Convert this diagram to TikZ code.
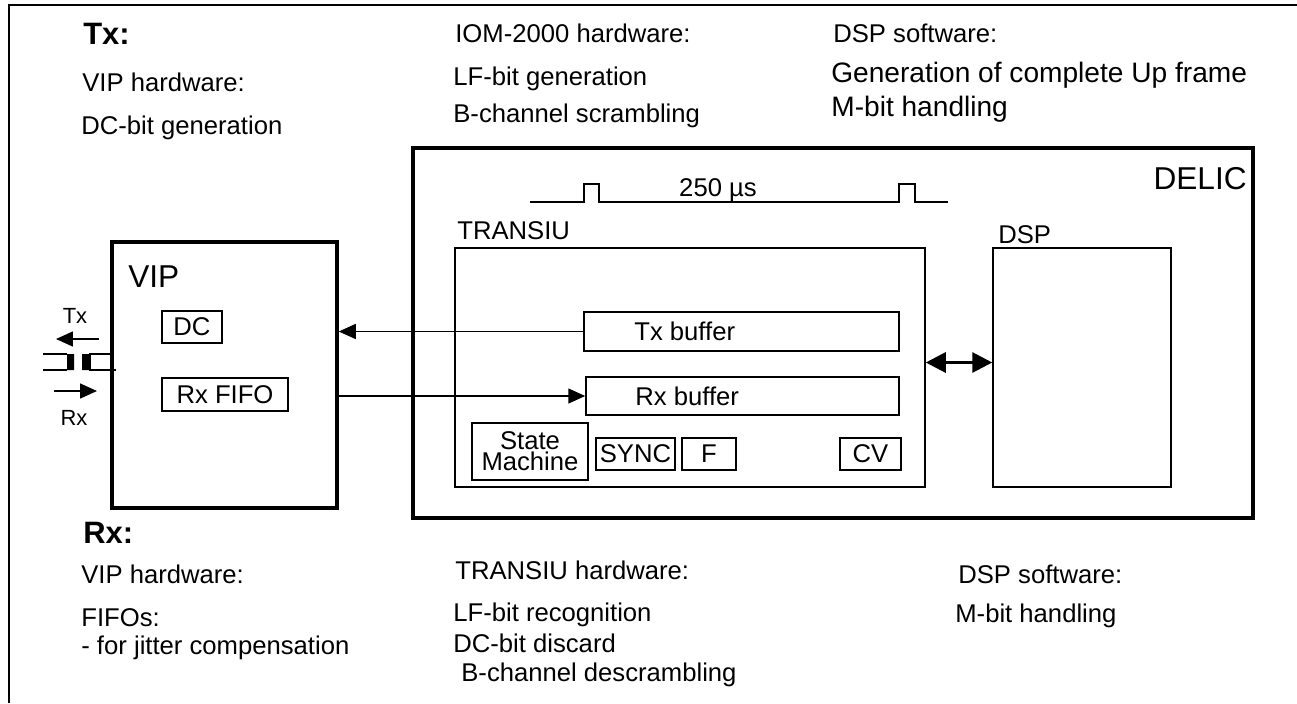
\documentclass[tikz,border=0pt]{standalone}
\usepackage{fontspec}
\setmainfont{Liberation Sans}
\usetikzlibrary{arrows.meta, positioning, fit, calc}

\begin{document}
\begin{tikzpicture}[x=0.02cm, y=-0.02cm]
\tikzset{
  txt/.style={anchor=base west, inner sep=0, font=\fontsize{14.6}{17}\selectfont},
  wide txt/.style={txt, font=\fontsize{16}{19}\selectfont},
  hdr/.style={anchor=base west, inner sep=0, font=\fontsize{17.6}{20}\selectfont\bfseries},
  big/.style={inner sep=0, font=\fontsize{18}{21}\selectfont},
  port lbl/.style={inner sep=0, font=\fontsize{12.5}{14}\selectfont},
  box/.style={draw, line width=0.85pt, inner sep=0},
  thick box/.style={draw, line width=2pt, inner sep=0},
  small box/.style={box, minimum height=0.64cm, font=\fontsize{14.6}{17}\selectfont},
  arr/.style={line width=0.85pt, -{Triangle[length=3.4mm, width=3mm]}},
  dbl/.style={line width=1.7pt, {Triangle[length=4mm, width=4mm]}-{Triangle[length=4mm, width=4mm]}},
}
  \useasboundingbox (0,0) rectangle (1297,703);
  \draw[line width=0.85pt] (9,703) -- (9,5) -- (1297,5);

  \node [hdr] (TxHead) at (83,44) {Tx:};
  \node [hdr] (RxHead) at (83,543) {Rx:};
  \foreach \x/\y/\t [count=\c] in {82/91/VIP hardware:, 81/134/DC-bit generation,
      455/42/IOM-2000 hardware:, 453/85/LF-bit generation, 453/122/B-channel scrambling,
      833/42/DSP software:} {
    \node [txt] (TxTxt\c) at (\x,\y) {\t};
  }
  \node [wide txt] (UpFrame) at (831,82) {Generation of complete Up frame};
  \node [wide txt] (MbitTx) at (831,116) {M-bit handling};
  \foreach \x/\y/\t [count=\c] in {81/583/VIP hardware:, 81/626/FIFOs:, 81/654/- for jitter compensation,
      455/579/TRANSIU hardware:, 453/621/LF-bit recognition, 453/652/DC-bit discard,
      461/681/B-channel descrambling, 958/583/DSP software:, 955/622/M-bit handling} {
    \node [txt] (RxTxt\c) at (\x,\y) {\t};
  }

  \node [thick box, fit={(413,148) (1253,518)}] (DELIC) {};
  \node [big, anchor=base east] (DELICLbl) at (1247,189) {DELIC};
  \node [thick box, fit={(112,242) (337,508)}] (VIP) {};
  \node [big, anchor=base west] (VIPLbl) at (128,287) {VIP};
  \node [box, fit={(455,248) (925,487)}] (TRANSIU) {};
  \node [txt] (TRANSIULbl) at (457,239) {TRANSIU};
  \node [box, fit={(993,248) (1171,487)}] (DSP) {};
  \node [txt] (DSPLbl) at (998,243) {DSP};

  \node [box, fit={(584,312) (899,351)}] (TxBuf) {};
  \node [txt] (TxBufLbl) at (634,340) {Tx buffer};
  \node [box, fit={(586,377) (899,415)}] (RxBuf) {};
  \node [txt] (RxBufLbl) at (635,405) {Rx buffer};

  \node [small box, minimum width=2.32cm, minimum height=1.14cm, align=center,
    font=\fontsize{14.6}{12}\selectfont] (SM) at (530,451.5) {State\\Machine};
  \node [small box, minimum width=1.58cm] (SYNC) at (635.5,454) {SYNC};
  \node [small box, minimum width=1.08cm] (F) at (709,454) {F};
  \node [small box, minimum width=1.22cm] (CV) at (870.5,454) {CV};
  \node [small box, minimum width=1.2cm] (DC) at (192,327) {DC};
  \node [small box, minimum width=2.52cm, minimum height=0.66cm] (RxFIFO) at (225,394.5) {Rx FIFO};

  \draw[line width=0.85pt] (530,202) -- (584,202) |- (599,184) |- (899,202) |- (915,184) |- (948,202);
  \node [txt, anchor=base] (Period) at (718,196) {250 µs};

  \draw[arr] (TxBuf.west) -- (TxBuf.west -| VIP.east);
  \draw[arr] (RxBuf.west -| VIP.east) -- (RxBuf.west);
  \draw[dbl] ([yshift=0.1cm]TRANSIU.east) -- ([yshift=0.1cm]DSP.west);

  \draw[line width=0.6pt] (43,354) -- (67,354) (43,370) -- (67,370);
  \fill (67,354) rectangle (74,370) (82,354) rectangle (90,370);
  \draw[line width=0.85pt] (VIP.west |- 0,354) -- (90,354) -- (90,370) -- (116,370);
  \coordinate (TxFrom) at (99,339);
  \coordinate (TxTo) at (56,339);
  \coordinate (RxFrom) at (54,391);
  \coordinate (RxTo) at (97,391);
  \draw[arr] (TxFrom) -- (TxTo);
  \draw[arr] (RxFrom) -- (RxTo);
  \node [port lbl] (TxPort) at (75,316) {Tx};
  \node [port lbl] (RxPort) at (74,418) {Rx};
\end{tikzpicture}
\end{document}
